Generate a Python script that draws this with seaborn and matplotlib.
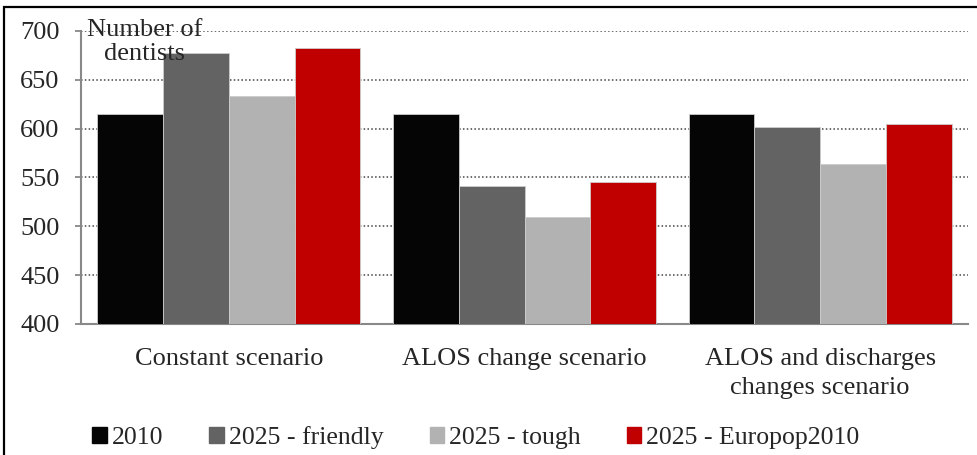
"""
Number of dentists by scenario: 2010 vs three 2025 projections.
"""

import pandas as pd
import matplotlib.pyplot as plt
import seaborn as sns
from matplotlib.patches import Rectangle

# Data
scenarios = ['Constant scenario', 'ALOS change scenario',
             'ALOS and discharges\nchanges scenario']
series = ['2010', '2025 - friendly', '2025 - tough', '2025 - Europop2010']
vals_2010 = [615, 615, 615]
vals_friendly = [677, 541, 602]
vals_tough = [633, 509, 564]
vals_europop = [683, 545, 605]
colors = ['#050505', '#636363', '#b2b2b2', '#c00000']

FS = 19

sns.set_style("white")
plt.rcParams['font.family'] = ['Liberation Serif', 'DejaVu Serif']
plt.rcParams['font.size'] = FS

rows = []
for name, vals in zip(series, [vals_2010, vals_friendly, vals_tough, vals_europop]):
    for sc, v in zip(scenarios, vals):
        rows.append({'scenario': sc, 'series': name, 'value': v})
df = pd.DataFrame(rows)

fig = plt.figure(figsize=(9.77, 4.55), dpi=100)
ax = fig.add_axes([0.0829, 0.288, 0.9079, 0.644])

sns.barplot(data=df, x='scenario', y='value', hue='series', order=scenarios,
            hue_order=series, palette=colors, saturation=1, width=0.89, ax=ax,
            edgecolor='#cccccc', linewidth=0.6, legend=False, zorder=3)

ax.set_ylim(400, 700)
ax.set_xlim(-0.5, 2.5)
ax.set_yticks(range(400, 701, 50))
ax.yaxis.grid(True, linestyle=(0, (1, 1.5)), color='#444444', linewidth=1.1, zorder=0)
ax.set_axisbelow(True)

# category boundaries as major ticks, labels on minor ticks
ax.set_xticks([-0.5, 0.5, 1.5, 2.5])
ax.set_xticklabels([])
ax.set_xticks([0, 1, 2], minor=True)
ax.set_xticklabels(scenarios, minor=True, fontsize=FS, linespacing=1.45)
ax.tick_params(axis='x', which='major', length=5, width=1.3, color='#888888', direction='out')
ax.tick_params(axis='x', which='minor', length=0, pad=17)
ax.tick_params(axis='y', length=4.5, width=1.3, color='#888888', direction='out', pad=11,
               left=True, labelsize=FS)
ax.set_xlabel('')
ax.set_ylabel('')

for side in ['top', 'right']:
    ax.spines[side].set_visible(False)
for side in ['left', 'bottom']:
    ax.spines[side].set_color('#888888')
    ax.spines[side].set_linewidth(1.5)

ax.text(0.072, 1.04, 'Number of\ndentists', transform=ax.transAxes,
        ha='center', va='top', fontsize=FS, linespacing=1.1, zorder=5)

# legend
handles = [Rectangle((0, 0), 1, 1, color=c) for c in colors]
fig.legend(handles, series, loc='center', bbox_to_anchor=(0.487, 0.038), ncol=4,
           frameon=False, handlelength=0.55, handleheight=0.55, handletextpad=0.2,
           columnspacing=1.8, fontsize=18.5)

# outer border (cropped at right and bottom in the original)
fig.patches.append(Rectangle((0.0041, -0.1), 1.2, 1.0846, transform=fig.transFigure,
                             fill=False, edgecolor='black', linewidth=1.6))

plt.savefig('out.png', dpi=100)
plt.close()
